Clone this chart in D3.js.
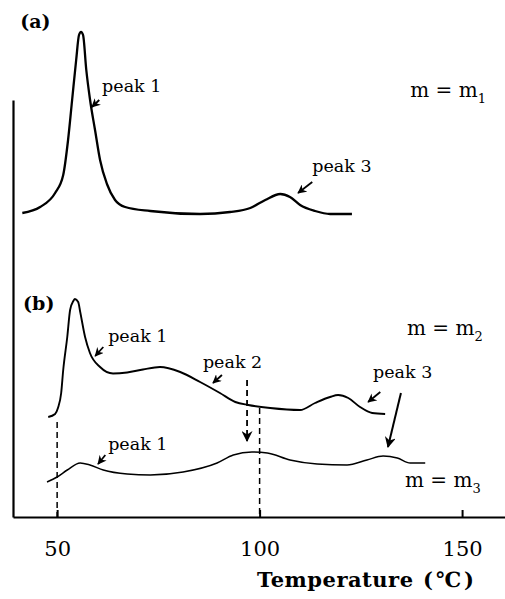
<!DOCTYPE html>
<html><head><meta charset="utf-8">
<script src="https://cdn.jsdelivr.net/npm/d3@7"></script>
<style>
html,body{margin:0;padding:0;background:#fff;}
svg{display:block;}
text{font-family:"DejaVu Serif","Liberation Serif",serif;fill:#000;}
</style></head>
<body>
<script>
// ---- data (temperature °C, relative signal) ----
const curveA_T = [41.4,45.8,49.5,51.5,52.7,53.7,54.7,55.4,55.9,56.4,57.2,58.1,59.4,60.6,62.3,64.3,66.8,73.0,85.3,92.7,97.7,101.4,105.1,107.5,110.0,113.7,117.4,122.8];
const curveA_I = [60.8,62.0,64.8,68.4,75.4,83.4,91.4,96.4,97.0,96.4,89.4,83.6,77.2,71.4,66.6,63.4,62.0,61.2,60.6,61.0,61.8,63.4,64.6,64.0,62.4,61.2,60.6,60.6];

const curveB_T = [47.8,49.5,50.2,51.0,51.5,52.5,53.2,54.0,54.4,55.2,55.7,56.9,58.1,60.6,63.8,67.3,71.2,75.4,80.4,85.3,90.2,94.0,97.2,102.6,110.0,113.7,117.4,119.4,121.9,124.8,127.8,131.0];
const curveB_I = [20.0,20.6,21.8,24.8,29.4,36.0,41.4,43.2,43.6,43.0,41.0,36.0,32.8,30.0,28.7,28.9,29.5,30.0,29.0,27.0,24.8,23.0,22.4,21.8,21.4,22.8,24.0,24.4,23.8,22.0,20.8,20.6];

const curveC_T = [47.5,50.0,52.5,55.7,58.1,61.4,67.3,73.0,81.1,89.5,93.5,98.1,101.9,107.5,114.2,121.6,126.5,130.5,134.0,137.2,140.9];
const curveC_I = [7.0,8.0,9.4,10.8,10.4,9.4,8.6,8.4,9.0,10.8,12.4,13.0,12.8,11.4,10.6,10.4,11.4,12.2,11.8,10.8,10.8];

const xTicks = [50, 100, 150];
const xDomain = [39.1, 160.6];
const yDomain = [0, 100];
const yAxisTop = 83.4;

// dashed reference lines
const dashT = [50, 100];
const dashFrom = [19.0, 21.8];

// arrows: [T1, I1, T2, I2]
const smallArrows = [
  [60.4,83.4,58.6,82.0],
  [113.0,67.0,109.5,64.8],
  [61.4,34.0,59.4,32.2],
  [90.7,28.4,88.5,26.8],
  [129.8,25.0,126.8,23.0],
  [61.9,12.4,60.1,10.6]
];
const dashedArrow = [96.9,27.4,96.9,15.2];
const longArrow = [134.9,24.8,131.7,14.0];

const peakLabels = ["peak 1","peak 3","peak 1","peak 2","peak 3","peak 1"];
const peakLabelT = [61.1,113.0,62.6,86.0,128.0,62.6];
const peakLabelI = [85.0,69.0,35.0,29.8,27.8,13.4];

const mSubs = ["1","2","3"];
const mLabelT = [137.2,136.4,135.9];
const mLabelI = [84.0,36.4,6.0];

const panelLabels = ["(a)","(b)"];
const panelT = [40.9,41.6];
const panelI = [97.8,41.4];

// ---- drawing ----
const W = 505, H = 599;
const svg = d3.select("body").append("svg").attr("width", W).attr("height", H);
const x = d3.scaleLinear().domain(xDomain).range([13, 505]);
const y = d3.scaleLinear().domain(yDomain).range([517, 17]);

const defs = svg.append("defs");
defs.append("marker").attr("id","ah").attr("viewBox","0 0 10 10")
  .attr("refX",9).attr("refY",5).attr("markerWidth",9).attr("markerHeight",9)
  .attr("markerUnits","userSpaceOnUse").attr("orient","auto")
  .append("path").attr("d","M0,0 L10,5 L0,10 L3,5 Z").attr("fill","#000");
defs.append("marker").attr("id","ahBig").attr("viewBox","0 0 10 10")
  .attr("refX",9).attr("refY",5).attr("markerWidth",11).attr("markerHeight",11)
  .attr("markerUnits","userSpaceOnUse").attr("orient","auto")
  .append("path").attr("d","M0,0 L10,5 L0,10 L3,5 Z").attr("fill","#000");

// axes
const xAxis = d3.axisBottom(x).tickValues(xTicks).tickSizeInner(-7).tickSizeOuter(0).tickPadding(24);
const gx = svg.append("g").attr("transform", `translate(0,${y(0)})`).call(xAxis);
gx.select(".domain").attr("stroke-width", 2.2);
gx.selectAll(".tick line").attr("stroke-width", 2);
gx.selectAll(".tick text").style("font-size","21px").style("font-family","DejaVu Serif");

const yAxisScale = y.copy().domain([0, yAxisTop]).range([y(0), y(yAxisTop)]);
const gy = svg.append("g").attr("transform", `translate(${x(xDomain[0])},0)`)
  .call(d3.axisLeft(yAxisScale).tickValues([]).tickSizeOuter(0));
gy.select(".domain").attr("stroke-width", 2.2);

// axis title
svg.append("text").attr("x", 257).attr("y", 587)
  .style("font-size","21px").style("font-weight","bold")
  .attr("textLength", 156).text("Temperature");
svg.append("text").attr("x", 423).attr("y", 587)
  .style("font-size","21px").style("font-weight","bold").style("letter-spacing","3px")
  .text("(℃)");

// dashed lines
dashT.forEach((t,i) => {
  svg.append("line").attr("x1", x(t)).attr("x2", x(t))
    .attr("y1", y(dashFrom[i])).attr("y2", y(0))
    .attr("stroke","#000").attr("stroke-width",1.5).attr("stroke-dasharray","6,4");
});

// curves
const line = (T, I) => d3.line().x((d,i)=>x(T[i])).y((d,i)=>y(I[i])).curve(d3.curveMonotoneX)(T);
svg.append("path").attr("d", line(curveA_T, curveA_I)).attr("fill","none").attr("stroke","#000").attr("stroke-width",2.3).attr("stroke-linejoin","round");
svg.append("path").attr("d", line(curveB_T, curveB_I)).attr("fill","none").attr("stroke","#000").attr("stroke-width",1.9).attr("stroke-linejoin","round");
svg.append("path").attr("d", line(curveC_T, curveC_I)).attr("fill","none").attr("stroke","#000").attr("stroke-width",1.5).attr("stroke-linejoin","round");

// arrows
smallArrows.forEach(a => {
  svg.append("line").attr("x1",x(a[0])).attr("y1",y(a[1])).attr("x2",x(a[2])).attr("y2",y(a[3]))
    .attr("stroke","#000").attr("stroke-width",1.8).attr("marker-end","url(#ah)");
});
svg.append("line").attr("x1",x(dashedArrow[0])).attr("y1",y(dashedArrow[1])).attr("x2",x(dashedArrow[2])).attr("y2",y(dashedArrow[3]))
  .attr("stroke","#000").attr("stroke-width",1.8).attr("stroke-dasharray","6,4").attr("marker-end","url(#ahBig)");
svg.append("line").attr("x1",x(longArrow[0])).attr("y1",y(longArrow[1])).attr("x2",x(longArrow[2])).attr("y2",y(longArrow[3]))
  .attr("stroke","#000").attr("stroke-width",2).attr("marker-end","url(#ahBig)");

// peak labels
peakLabels.forEach((s,i) => {
  svg.append("text").attr("x", x(peakLabelT[i])).attr("y", y(peakLabelI[i]))
    .style("font-size","17.5px").text(s);
});

// m labels
mSubs.forEach((s,i) => {
  const t = svg.append("text").attr("x", x(mLabelT[i])).attr("y", y(mLabelI[i])).style("font-size","20px");
  t.append("tspan").text("m = m");
  t.append("tspan").attr("dy", 6).style("font-size","13px").text(s);
});

// panel labels
panelLabels.forEach((s,i) => {
  svg.append("text").attr("x", x(panelT[i])).attr("y", y(panelI[i]))
    .style("font-size","19px").style("font-weight","bold").text(s);
});
</script>
</body></html>
